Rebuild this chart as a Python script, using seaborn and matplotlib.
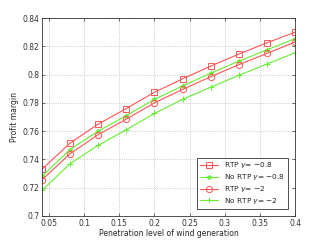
import numpy as np
import pandas as pd
import matplotlib
matplotlib.use('Agg')
import matplotlib.pyplot as plt
import seaborn as sns

# penetration levels of wind generation
penetration = [0.04, 0.08, 0.12, 0.16, 0.20, 0.24, 0.28, 0.32, 0.36, 0.40]

rtp_08 = [0.733, 0.7515, 0.765, 0.776, 0.7875, 0.797, 0.806, 0.8145, 0.8225, 0.830]
nortp_08 = [0.728, 0.747, 0.760, 0.771, 0.7825, 0.792, 0.801, 0.8095, 0.8175, 0.8255]
rtp_2 = [0.7255, 0.744, 0.7575, 0.7685, 0.780, 0.7895, 0.7985, 0.807, 0.815, 0.823]
nortp_2 = [0.718, 0.737, 0.750, 0.761, 0.7725, 0.7825, 0.791, 0.7995, 0.8075, 0.8155]

labels = ['RTP $\\gamma$= \u22120.8', 'No RTP $\\gamma$= \u22120.8',
          'RTP $\\gamma$= \u22122', 'No RTP $\\gamma$= \u22122']
series = [rtp_08, nortp_08, rtp_2, nortp_2]

sns.set_style('ticks')
plt.rcParams['font.family'] = ['DejaVu Sans']
plt.rcParams['mathtext.fontset'] = 'dejavusans'

red = '#ff5555'
green = '#66ee33'
styles = [
    dict(color=red, marker='s', mfc='none', ms=4),
    dict(color=green, marker='*', mfc=green, ms=3.5),
    dict(color=red, marker='o', mfc='none', ms=4.5),
    dict(color=green, marker='+', mfc='none', ms=4),
]

fig = plt.figure(figsize=(3.25, 2.44), dpi=100)
ax = fig.add_axes([0.129, 0.115, 0.779, 0.811])

for vals, lab, st in zip(series, labels, styles):
    df = pd.DataFrame({'x': penetration, 'y': vals})
    sns.lineplot(data=df, x='x', y='y', ax=ax, label=lab, color=st['color'],
                 marker=st['marker'], markerfacecolor=st['mfc'],
                 markeredgecolor=st['color'], markersize=st['ms'],
                 markeredgewidth=0.7, linewidth=0.8)

ax.set_xlim(0.04, 0.4)
ax.set_ylim(0.7, 0.84)
ax.set_xticks([0.05, 0.1, 0.15, 0.2, 0.25, 0.3, 0.35, 0.4])
ax.set_xticklabels(['0.05', '0.1', '0.15', '0.2', '0.25', '0.3', '0.35', '0.4'])
ax.set_yticks([0.7, 0.72, 0.74, 0.76, 0.78, 0.8, 0.82, 0.84])
ax.set_yticklabels(['0.7', '0.72', '0.74', '0.76', '0.78', '0.8', '0.82', '0.84'])
ax.grid(True, linestyle=':', color='#bbbbbb', linewidth=0.6)
ax.tick_params(labelsize=5.5, length=2, width=0.5, direction='in', pad=2,
               top=True, right=True, colors='#333333')
for sp in ax.spines.values():
    sp.set_linewidth(0.6)
    sp.set_color('#333333')
ax.set_xlabel('Penetration level of wind generation', fontsize=5.5, labelpad=1)
ax.set_ylabel('Profit margin', fontsize=5.5, labelpad=2)

leg = ax.legend(loc='lower right', fontsize=5.3, frameon=True, fancybox=False,
                edgecolor='#333333', framealpha=1, handlelength=2.5,
                borderaxespad=1.0, labelspacing=0.25, borderpad=0.35)
leg.get_frame().set_linewidth(0.6)

fig.savefig('out.png', dpi=100)
